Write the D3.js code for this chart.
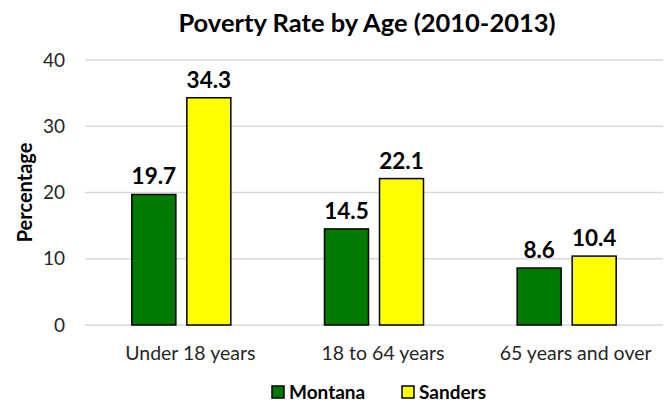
<!DOCTYPE html>
<html>
<head>
<meta charset="utf-8">
<script src="https://cdn.jsdelivr.net/npm/d3@7"></script>
<style>
  body { margin: 0; background: #fff; }
  text { font-family: Lato, "Open Sans", sans-serif; fill: #000; }
</style>
</head>
<body>
<div id="chart"></div>
<script>
var categories = ["Under 18 years", "18 to 64 years", "65 years and over"];
var seriesNames = ["Montana", "Sanders"];
var montana = [19.7, 14.5, 8.6];
var sanders = [34.3, 22.1, 10.4];
var yTicks = [0, 10, 20, 30, 40];
var colors = ["#007a00", "#ffff00"];

var width = 669, height = 403;
var margin = {top: 60, right: 6, bottom: 78, left: 85};

var svg = d3.select("#chart").append("svg")
  .attr("width", width)
  .attr("height", height);

var x = d3.scaleBand()
  .domain(categories)
  .range([margin.left, width - margin.right]);

var xInner = d3.scaleBand()
  .domain(seriesNames)
  .range([0, 99])
  .paddingInner(0.2);

var y = d3.scaleLinear()
  .domain([0, 40])
  .range([height - margin.bottom, margin.top]);

// gridlines
svg.append("g")
  .selectAll("line")
  .data(yTicks)
  .enter().append("line")
    .attr("x1", margin.left)
    .attr("x2", width - margin.right)
    .attr("y1", function(d){ return y(d); })
    .attr("y2", function(d){ return y(d); })
    .style("stroke", "#d9d9d9")
    .style("stroke-width", 1.3);

// y tick labels
svg.append("g")
  .selectAll("text")
  .data(yTicks)
  .enter().append("text")
    .attr("x", margin.left - 20)
    .attr("y", function(d){ return y(d); })
    .attr("dy", "0.35em")
    .attr("text-anchor", "end")
    .attr("font-size", "19px")
    .style("fill", "#262626")
    .text(function(d){ return d; });

var rows = categories.map(function(c, i){
  return {cat: c, values: [
    {name: seriesNames[0], value: montana[i]},
    {name: seriesNames[1], value: sanders[i]}
  ]};
});

var groups = svg.append("g")
  .selectAll("g")
  .data(rows)
  .enter().append("g")
    .attr("transform", function(d){
      return "translate(" + (x(d.cat) + x.bandwidth() / 2 - 49.5) + ",0)";
    });

groups.selectAll("rect")
  .data(function(d){ return d.values; })
  .enter().append("rect")
    .attr("x", function(d){ return xInner(d.name); })
    .attr("y", function(d){ return y(d.value); })
    .attr("width", xInner.bandwidth())
    .attr("height", function(d){ return y(0) - y(d.value); })
    .attr("fill", function(d, i){ return colors[i]; })
    .style("stroke", "#000")
    .style("stroke-width", 1.5);

groups.selectAll("text.val")
  .data(function(d){ return d.values; })
  .enter().append("text")
    .attr("class", "val")
    .attr("x", function(d){ return xInner(d.name) + xInner.bandwidth() / 2; })
    .attr("y", function(d){ return y(d.value) - 10; })
    .attr("text-anchor", "middle")
    .attr("font-size", "22.5px")
    .attr("font-weight", "bold")
    .text(function(d){ return d.value.toFixed(1); });

// category labels (sit a little right of the bar groups, as in the original)
svg.append("g")
  .selectAll("text")
  .data(categories)
  .enter().append("text")
    .attr("x", function(d){ return x(d) + x.bandwidth() / 2 + 9; })
    .attr("y", 360)
    .attr("text-anchor", "middle")
    .attr("font-size", "19.5px")
    .style("fill", "#262626")
    .text(function(d){ return d; });

// title
svg.append("text")
  .attr("x", 367)
  .attr("y", 32)
  .attr("text-anchor", "middle")
  .attr("font-size", "25.5px")
  .attr("font-weight", "bold")
  .text("Poverty Rate by Age (2010-2013)");

// y axis title
svg.append("text")
  .attr("transform", "translate(32," + ((margin.top + height - margin.bottom) / 2) + ") rotate(-90)")
  .attr("text-anchor", "middle")
  .attr("font-size", "20px")
  .attr("font-weight", "bold")
  .text("Percentage");

// legend
var legendX = [272, 402];
var legend = svg.append("g")
  .selectAll("g")
  .data(seriesNames)
  .enter().append("g")
    .attr("transform", function(d, i){ return "translate(" + legendX[i] + ",386)"; });

legend.append("rect")
  .attr("width", 12)
  .attr("height", 12)
  .attr("fill", function(d, i){ return colors[i]; })
  .style("stroke", "#000")
  .style("stroke-width", 1.5);

legend.append("text")
  .attr("x", 17)
  .attr("y", 6)
  .attr("dy", "0.35em")
  .attr("font-size", "19px")
  .attr("font-weight", "bold")
  .text(function(d){ return d; });
</script>
</body>
</html>
